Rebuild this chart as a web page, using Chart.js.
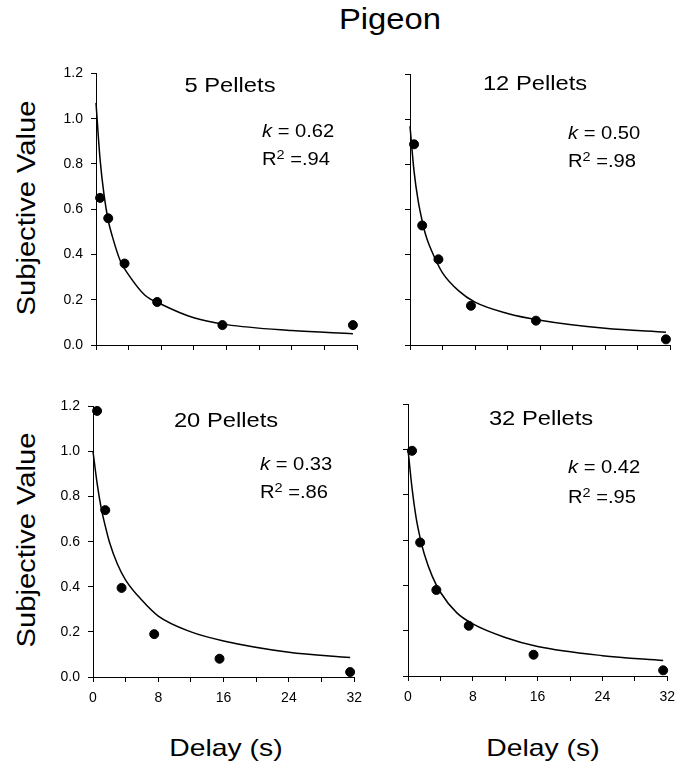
<!DOCTYPE html>
<html>
<head>
<meta charset="utf-8">
<script src="https://cdn.jsdelivr.net/npm/chart.js@4/dist/chart.umd.min.js"></script>
<style>
  html, body { margin: 0; padding: 0; background: #fff; }
  body { width: 680px; height: 769px; position: relative; overflow: hidden;
         font-family: 'Liberation Sans', Arial, Helvetica, sans-serif; color: #000; }
  .box { position: absolute; }
  .txt { position: absolute; white-space: nowrap; line-height: 1; }
  .c { transform: translateX(-50%) scaleX(1.13); }
  .wide { transform: translateX(-50%) scaleX(1.18); }
  .l { transform: scaleX(1.12); transform-origin: left top; }
  .rot { transform: translate(-50%, -50%) rotate(-90deg) scaleX(1.12); }
  sup { font-size: 0.72em; vertical-align: 0.5em; line-height: 0; }
</style>
</head>
<body>
<div class="txt c" style="left:390px; top:5px; font-size:29px;">Pigeon</div>

<div class="txt rot" style="left:26px; top:208px; font-size:26px;">Subjective Value</div>
<div class="txt rot" style="left:26px; top:540px; font-size:26px;">Subjective Value</div>
<div class="txt wide" style="left:226px; top:736px; font-size:24px;">Delay (s)</div>
<div class="txt wide" style="left:543px; top:736px; font-size:24px;">Delay (s)</div>

<div class="box" id="p1"><canvas id="c1"></canvas></div>
<div class="box" id="p2"><canvas id="c2"></canvas></div>
<div class="box" id="p3"><canvas id="c3"></canvas></div>
<div class="box" id="p4"><canvas id="c4"></canvas></div>

<div class="txt c" style="left:230px; top:74px; font-size:21px;">5 Pellets</div>
<div class="txt c" style="left:535px; top:72px; font-size:21px;">12 Pellets</div>
<div class="txt c" style="left:226px; top:409px; font-size:21px;">20 Pellets</div>
<div class="txt c" style="left:541px; top:407px; font-size:21px;">32 Pellets</div>

<div class="txt l" style="left:262px; top:122px; font-size:18px;"><i>k</i> = 0.62</div>
<div class="txt l" style="left:262px; top:150px; font-size:18px;">R<sup>2</sup> =.94</div>
<div class="txt l" style="left:568px; top:124px; font-size:18px;"><i>k</i> = 0.50</div>
<div class="txt l" style="left:568px; top:152px; font-size:18px;">R<sup>2</sup> =.98</div>
<div class="txt l" style="left:260px; top:455px; font-size:18px;"><i>k</i> = 0.33</div>
<div class="txt l" style="left:260px; top:483px; font-size:18px;">R<sup>2</sup> =.86</div>
<div class="txt l" style="left:568px; top:458px; font-size:18px;"><i>k</i> = 0.42</div>
<div class="txt l" style="left:568px; top:488px; font-size:18px;">R<sup>2</sup> =.95</div>

<script>
// delays (s) of the obtained points
var delays = [0.5, 1.5, 3.5, 7.5, 15.5, 31.5];
// obtained subjective values
var obs5 = [0.65, 0.56, 0.36, 0.19, 0.088, 0.088];
var obs12 = [0.89, 0.53, 0.38, 0.174, 0.108, 0.025];
var obs20 = [1.18, 0.74, 0.395, 0.19, 0.081, 0.022];
var obs32 = [0.995, 0.59, 0.38, 0.222, 0.094, 0.025];

// fitted curves
var curveDelays = [0, 0.5, 1, 1.5, 2, 3, 4, 6, 8, 12, 16, 24, 31.5];
var fit5 = [1.07, 0.82, 0.66, 0.55, 0.48, 0.37, 0.31, 0.22, 0.18, 0.12, 0.09, 0.064, 0.05];
var fit12 = [0.97, 0.77, 0.64, 0.55, 0.48, 0.39, 0.32, 0.24, 0.19, 0.14, 0.11, 0.074, 0.057];
var fit20 = [1.0, 0.86, 0.75, 0.67, 0.6, 0.5, 0.43, 0.34, 0.27, 0.2, 0.16, 0.11, 0.086];
var fit32 = [1.0, 0.83, 0.70, 0.61, 0.54, 0.44, 0.37, 0.28, 0.23, 0.17, 0.13, 0.09, 0.069];

var xTicks = [0, 4, 8, 12, 16, 20, 24, 28, 32];
var xLabels = [0, 8, 16, 24, 32];
var yTicks = [0, 0.2, 0.4, 0.6, 0.8, 1.0, 1.2];

var FONT = "'Liberation Sans', Arial, Helvetica, sans-serif";

function pairs(xs, ys) {
    return xs.map(function (x, i) { return { x: x, y: ys[i] }; });
}

function makePanel(n, area, obs, fit, showX, showY) {
    var w = area.r - area.l + 85, h = area.b - area.t + 55;
    var box = document.getElementById('p' + n);
    box.style.left = (area.l - 70) + 'px';
    box.style.top = (area.t - 15) + 'px';
    box.style.width = w + 'px';
    box.style.height = h + 'px';
    var cv = document.getElementById('c' + n);
    cv.width = w; cv.height = h;

    var axisGrid = { display: true, drawOnChartArea: false, drawTicks: true, tickLength: 5, color: '#000', lineWidth: 1 };
    var axisBorder = { display: true, color: '#000', width: 1 };

    new Chart(cv, {
        type: 'scatter',
        data: {
            datasets: [{
                data: pairs(delays, obs),
                backgroundColor: '#000',
                borderColor: '#000',
                pointRadius: 4.5,
                showLine: false,
                clip: false
            }, {
                data: pairs(curveDelays, fit),
                borderColor: '#000',
                borderWidth: 1.5,
                pointRadius: 0,
                showLine: true,
                cubicInterpolationMode: 'monotone',
                clip: false
            }]
        },
        options: {
            responsive: false,
            animation: false,
            devicePixelRatio: 1,
            layout: { padding: { left: 0, right: 15, top: 15, bottom: 0 } },
            plugins: { legend: { display: false }, tooltip: { enabled: false } },
            scales: {
                x: {
                    type: 'linear', min: 0, max: 32,
                    afterFit: function (s) { s.height = 40; },
                    afterBuildTicks: function (s) { s.ticks = xTicks.map(function (v) { return { value: v }; }); },
                    ticks: {
                        autoSkip: false, maxRotation: 0, padding: 8, color: '#000',
                        font: { family: FONT, size: 14 },
                        callback: function (v) { return showX && xLabels.indexOf(v) >= 0 ? String(v) : ''; }
                    },
                    grid: axisGrid,
                    border: axisBorder
                },
                y: {
                    type: 'linear', min: 0, max: 1.2,
                    afterFit: function (s) { s.width = 70; },
                    afterBuildTicks: function (s) { s.ticks = yTicks.map(function (v) { return { value: v }; }); },
                    ticks: {
                        autoSkip: false, padding: 8, color: '#000',
                        font: { family: FONT, size: 14 },
                        callback: function (v) { return showY ? v.toFixed(1) : ''; }
                    },
                    grid: axisGrid,
                    border: axisBorder
                }
            }
        }
    });
}

makePanel(1, { l: 96, t: 72, r: 357, b: 345 }, obs5, fit5, false, true);
makePanel(2, { l: 410, t: 73, r: 670, b: 345 }, obs12, fit12, false, false);
makePanel(3, { l: 93, t: 405, r: 355, b: 677 }, obs20, fit20, true, true);
makePanel(4, { l: 408, t: 403, r: 668, b: 676 }, obs32, fit32, true, false);
</script>
</body>
</html>
